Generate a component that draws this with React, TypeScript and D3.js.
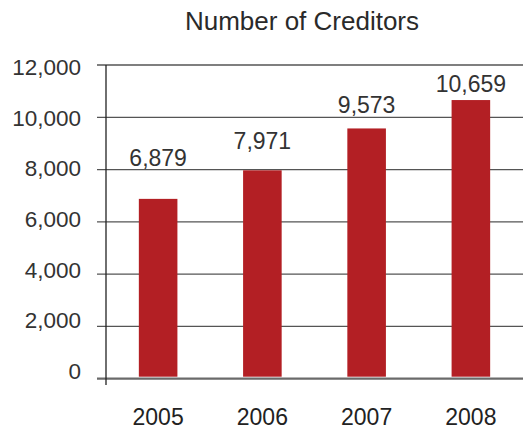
import React from "react";
import * as d3 from "d3";

const years = ["2005", "2006", "2007", "2008"];
const creditors = [6879, 7971, 9573, 10659];
const labelGaps = [33, 21, 15, 8];
const yTicks = [0, 2000, 4000, 6000, 8000, 10000, 12000];
const title = "Number of Creditors";

export default function App() {
  const W = 524, H = 432;
  const x = d3.scaleBand<string>().domain(years).range([106, 523]).paddingInner(0.63).paddingOuter(0.315);
  const y = d3.scaleLinear().domain([0, 12000]).range([378.7, 65]);
  const yLab = d3.scaleLinear().domain([0, 12000]).range([379, 75]);
  const fmt = d3.format(",");
  const font = "'Liberation Sans', Arial, Helvetica, sans-serif";
  return (
    <svg width={W} height={H} style={{ position: "absolute", left: 0, top: 0 }} fontFamily={font}>
      <text x={302} y={30} textAnchor="middle" fontSize={26} fill="#2a2a2a">{title}</text>
      {yTicks.map((t) => (
        <g key={t}>
          <line x1={97} x2={523} y1={y(t)} y2={y(t)} stroke={t === 0 ? "#6a6a6a" : "#555"} strokeWidth={t === 0 ? 2.2 : 1.3} />
          <text x={81} y={yLab(t)} textAnchor="end" fontSize={22.5} fill="#333">{fmt(t)}</text>
        </g>
      ))}
      <line x1={106} x2={106} y1={65} y2={385} stroke="#222" strokeWidth={1.3} />
      {years.map((yr, i) => (
        <g key={yr}>
          <rect x={x(yr)} y={y(creditors[i])} width={x.bandwidth()} height={y(0) - 2 - y(creditors[i])} fill="#b31f24" />
          <text x={(x(yr) as number) + x.bandwidth() / 2} y={y(creditors[i]) - labelGaps[i]} textAnchor="middle" fontSize={23} fill="#333">{fmt(creditors[i])}</text>
          <text x={(x(yr) as number) + x.bandwidth() / 2} y={425} textAnchor="middle" fontSize={23} fill="#222">{yr}</text>
        </g>
      ))}
    </svg>
  );
}
